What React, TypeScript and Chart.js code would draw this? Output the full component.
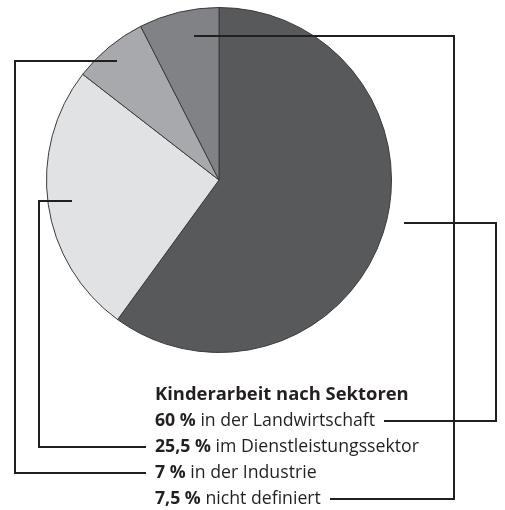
import React, { useEffect, useRef } from "react";
import { Chart, registerables } from "chart.js";

Chart.register(...registerables);

// ---- data ----
const title = "Kinderarbeit nach Sektoren";
const categories = [
  "in der Landwirtschaft",
  "im Dienstleistungssektor",
  "in der Industrie",
  "nicht definiert",
];
const percentLabels = ["60 %", "25,5 %", "7 %", "7,5 %"];
const values = [60, 25.5, 7, 7.5];

// ---- styles / layout ----
const COLORS = ["#58595b", "#e1e2e3", "#a7a9ac", "#808285"];
const LINE_COLOR = "#231f20";
const W = 505;
const H = 510;
const FONT = '"Open Sans", "DejaVu Sans", sans-serif';
const TEXT_SIZE = 17.7;
const TITLE_SIZE = 18.4;
const TEXT_LEFT = 155;
const TITLE_BASELINE = 400;
const ROW0_BASELINE = 426;
const ROW_STEP = 26;
const ASC = 1.069;
const DESC = 0.293;
const LH = 22;

// leader lines: which slice, which text row, x of vertical rail, anchor radius factor, angle shift (deg)
const LEADERS = [
  { slice: 0, row: 0, rail: 496, rFactor: 1.1, shift: -5 },
  { slice: 1, row: 1, rail: 39, rFactor: 0.86, shift: 0 },
  { slice: 2, row: 2, rail: 15, rFactor: 0.91, shift: -1 },
  { slice: 3, row: 3, rail: 454, rFactor: 0.85, shift: 3.5 },
];

const rowBaseline = (i: number) => ROW0_BASELINE + ROW_STEP * i;
const topFor = (baseline: number, size: number) => {
  const content = (ASC + DESC) * size;
  const half = (LH - content) / 2;
  return baseline - (half + ASC * size);
};

const leaderPlugin = {
  id: "leaders",
  afterDatasetsDraw(chart: any) {
    const ctx = chart.ctx;
    const meta = chart.getDatasetMeta(0);
    ctx.save();
    ctx.strokeStyle = LINE_COLOR;
    ctx.lineWidth = 2;
    ctx.lineJoin = "miter";
    ctx.lineCap = "butt";
    LEADERS.forEach((l) => {
      const arc: any = meta.data[l.slice];
      if (!arc) return;
      const { x, y, startAngle, endAngle, outerRadius } = arc.getProps(
        ["x", "y", "startAngle", "endAngle", "outerRadius"],
        true
      );
      const mid = (startAngle + endAngle) / 2 + (l.shift * Math.PI) / 180;
      const ax = Math.round(x + Math.cos(mid) * outerRadius * l.rFactor);
      const ay = Math.round(y + Math.sin(mid) * outerRadius * l.rFactor);
      const ly = rowBaseline(l.row) - 5;
      let endX: number;
      if (l.rail > ax) {
        ctx.font = `bold ${TEXT_SIZE}px ${FONT}`;
        const w1 = ctx.measureText(percentLabels[l.row] + " ").width;
        ctx.font = `${TEXT_SIZE}px ${FONT}`;
        const w2 = ctx.measureText(categories[l.row]).width;
        endX = Math.round(TEXT_LEFT + w1 + w2 + 9);
      } else {
        endX = TEXT_LEFT - 9;
      }
      ctx.beginPath();
      ctx.moveTo(ax, ay);
      ctx.lineTo(l.rail, ay);
      ctx.lineTo(l.rail, ly);
      ctx.lineTo(endX, ly);
      ctx.stroke();
    });
    ctx.restore();
  },
};

export default function App() {
  const ref = useRef<HTMLCanvasElement | null>(null);

  useEffect(() => {
    if (!ref.current) return;
    const chart = new Chart(ref.current, {
      type: "pie",
      data: {
        labels: categories,
        datasets: [
          {
            data: values,
            backgroundColor: COLORS,
            borderColor: "#3b3b3d",
            borderWidth: 1,
          },
        ],
      },
      options: {
        animation: false,
        responsive: false,
        events: [],
        layout: { padding: { left: 46, right: 113, top: 7, bottom: 157 } },
        plugins: {
          legend: { display: false },
          tooltip: { enabled: false },
          title: { display: false },
        },
      },
      plugins: [leaderPlugin],
    });
    return () => chart.destroy();
  }, []);

  return (
    <div
      style={{
        position: "absolute",
        left: 0,
        top: 0,
        width: W,
        height: H,
        background: "#ffffff",
        fontFamily: FONT,
        color: LINE_COLOR,
      }}
    >
      <canvas ref={ref} width={W} height={H} style={{ position: "absolute", left: 0, top: 0 }} />
      <div
        style={{
          position: "absolute",
          left: TEXT_LEFT,
          top: topFor(TITLE_BASELINE, TITLE_SIZE),
          fontSize: TITLE_SIZE,
          lineHeight: `${LH}px`,
          fontWeight: 700,
          whiteSpace: "nowrap",
        }}
      >
        {title}
      </div>
      {categories.map((c, i) => (
        <div
          key={c}
          style={{
            position: "absolute",
            left: TEXT_LEFT,
            top: topFor(rowBaseline(i), TEXT_SIZE),
            fontSize: TEXT_SIZE,
            lineHeight: `${LH}px`,
            whiteSpace: "nowrap",
          }}
        >
          <b>{percentLabels[i]}</b> {c}
        </div>
      ))}
    </div>
  );
}
